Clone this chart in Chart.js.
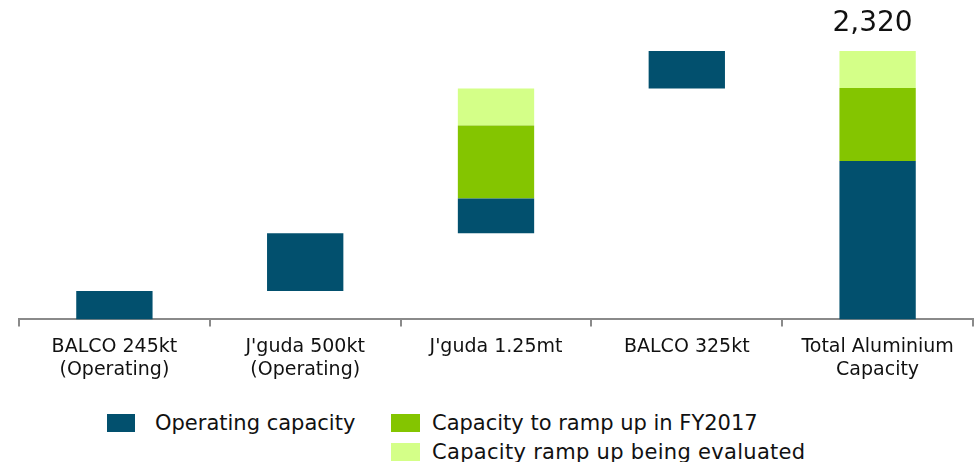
<!DOCTYPE html>
<html>
<head>
<meta charset="utf-8">
<script src="https://cdn.jsdelivr.net/npm/chart.js@4"></script>
<style>
  html, body { margin: 0; padding: 0; background: #fff; }
  #wrap { position: relative; width: 975px; height: 462px; overflow: hidden; font-family: "DejaVu Sans", Verdana, sans-serif; }
  #chartBox { position: absolute; left: 0; top: 0; width: 975px; height: 390px; }
  .lg { position: absolute; display: flex; align-items: center; font-size: 21px; color: #111; white-space: nowrap; }
  .sw { width: 29px; height: 18px; margin-right: 20px; }
</style>
</head>
<body>
<div id="wrap">
  <div id="chartBox"><canvas id="c"></canvas></div>
  <div class="lg" style="left:107px; top:411px;"><span class="sw" style="background:#02506E; width:28px; margin-right:20px;"></span>Operating capacity</div>
  <div class="lg" style="left:391px; top:411px;"><span class="sw" style="background:#84C500; margin-right:12px;"></span>Capacity to ramp up in FY2017</div>
  <div class="lg" style="left:391px; top:440px; letter-spacing:0.3px;"><span class="sw" style="background:#D4FF88; margin-right:12px;"></span>Capacity ramp up being evaluated</div>
</div>
<script>
const categories = [
  ["BALCO 245kt", "(Operating)"],
  ["J'guda 500kt", "(Operating)"],
  ["J'guda 1.25mt"],
  ["BALCO 325kt"],
  ["Total Aluminium", "Capacity"]
];
const operating = [245, 500, 300, 325, 1370];
const rampUp    = [0, 0, 630, 0, 630];
const evaluated = [0, 0, 320, 0, 320];
const isTotal   = [false, false, false, false, true];
const totalLabel = "2,320";

// invisible base for waterfall: running sum of previous steps
const base = [];
let run = 0;
for (let i = 0; i < categories.length; i++) {
  if (isTotal[i]) { base.push(0); }
  else { base.push(run); run += operating[i] + rampUp[i] + evaluated[i]; }
}

const colors = { op: "#02506E", ramp: "#84C500", eval: "#D4FF88" };

const totalLabelPlugin = {
  id: "totalLabel",
  afterDatasetsDraw(chart) {
    const meta = chart.getDatasetMeta(3);
    const idx = categories.length - 1;
    const bar = meta.data[idx];
    const ctx = chart.ctx;
    ctx.save();
    ctx.font = "28px 'DejaVu Sans', Verdana, sans-serif";
    ctx.fillStyle = "#111";
    ctx.textAlign = "center";
    ctx.textBaseline = "bottom";
    ctx.fillText(totalLabel, bar.x - 5, bar.y - 13);
    ctx.restore();
  }
};

new Chart(document.getElementById("c"), {
  type: "bar",
  data: {
    labels: categories,
    datasets: [
      { label: "base", data: base, backgroundColor: "rgba(0,0,0,0)" },
      { label: "Operating capacity", data: operating, backgroundColor: colors.op },
      { label: "Capacity to ramp up in FY2017", data: rampUp, backgroundColor: colors.ramp },
      { label: "Capacity ramp up being evaluated", data: evaluated, backgroundColor: colors.eval }
    ]
  },
  options: {
    responsive: true,
    maintainAspectRatio: false,
    animation: false,
    layout: { padding: { top: 51, left: 19, right: 2, bottom: 0 } },
    datasets: { bar: { categoryPercentage: 1.0, barPercentage: 0.4 } },
    plugins: { legend: { display: false }, tooltip: { enabled: false } },
    scales: {
      x: {
        stacked: true,
        offset: true,
        grid: { display: true, drawOnChartArea: false, drawTicks: true, tickLength: 7, offset: true, color: "#8a8a8a", lineWidth: 2 },
        border: { display: true, color: "#8a8a8a", width: 2 },
        ticks: { color: "#111", font: { family: "'DejaVu Sans', Verdana, sans-serif", size: 19 }, padding: 9, maxRotation: 0, autoSkip: false }
      },
      y: {
        stacked: true,
        display: false,
        min: 0,
        max: 2320
      }
    }
  },
  plugins: [totalLabelPlugin]
});
</script>
</body>
</html>
